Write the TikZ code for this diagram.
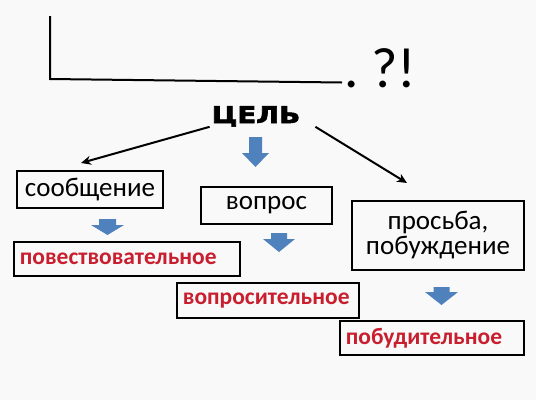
\documentclass[tikz,border=0pt]{standalone}
\usepackage{fontspec}
\setmainfont{Carlito}
\newfontfamily\headfont[BoldFeatures={FakeBold=2.5}]{DejaVu Sans}
\usetikzlibrary{arrows.meta}
\definecolor{arrowblue}{RGB}{79,129,189}
\definecolor{kindred}{RGB}{200,30,45}
\definecolor{paper}{RGB}{249,249,249}

\begin{document}
\begin{tikzpicture}[x=1pt,y=-1pt]
        \fill[paper] (0,0) rectangle (536,400);
        \useasboundingbox (0,0) rectangle (536,400);
        \tikzstyle{every node} = [rectangle, inner sep=0pt]
        \tikzstyle{box} = [draw, line width=1.8pt, align=center, font=\fontsize{27}{25}\selectfont]
        \tikzstyle{kind} = [draw, line width=1.8pt, anchor=west, inner xsep=6pt, align=left,
                text=kindred, font=\bfseries\fontsize{23.5}{26}\selectfont]
        \tikzstyle{link} = [line width=2pt, -{Stealth[length=10pt,width=9pt]}]
        \tikzset{pics/blockdown/.style n args={4}{code={
                \fill[arrowblue] (-#1,0) -- (#1,0) -- (#1,#3) -- (#2,#3) -- (0,#3+#4)
                        -- (-#2,#3) -- (-#1,#3) -- cycle;}}}
        % the sentence line and its end marks
        \coordinate (top) at (50,16);
        \coordinate (corner) at (50,79);
        \coordinate (lineend) at (342,82.5);
        \draw[line width=2pt] (top) -- (corner) -- (lineend);
        \node[anchor=base west, font=\fontsize{57}{57}\selectfont] (marks) at (344,87) {.\ ?!};
        % goal and its three kinds
        \node[anchor=base, inner xsep=2pt, font=\headfont\bfseries\fontsize{23}{23}\selectfont] (cel) at (256,123)
                {\scalebox{1.2}[1]{ЦЕЛЬ}};
        \coordinate (soobtip) at (81,163);
        \coordinate (prostip) at (407,183);
        \draw[link] (cel.south west) -- (soobtip);
        \draw[link] ([xshift=13pt]cel.south east) -- (prostip);
        \pic (celarr) at (255.5,137) {blockdown={6.5}{13.5}{16}{14}};
        \node[box, minimum width=146pt, minimum height=37pt] (soob) at (90,189.5) {сообщение};
        \node[box, minimum width=131pt, minimum height=37pt] (vopr) at (266.5,205.5) {вопрос};
        \node[box, minimum width=172pt, minimum height=69pt] (pros) at (438,235.5) {просьба,\\побуждение};
        % sentence types
        \pic (soobarr) at (107.5,219) {blockdown={8.5}{16.5}{6}{10}};
        \pic (voprarr) at (279,233) {blockdown={8}{16}{6}{13}};
        \pic (prosarr) at (441.5,287) {blockdown={8}{16.5}{5}{13}};
        \node[kind, text width=214pt, minimum height=34pt] (povest) at (13,259) {повествовательное};
        \node[kind, text width=170pt, minimum height=35pt] (voprosit) at (176,300.5) {вопросительное};
        \node[kind, text width=172pt, minimum height=34pt] (pobud) at (339,338) {побудительное};
\end{tikzpicture}
\end{document}
